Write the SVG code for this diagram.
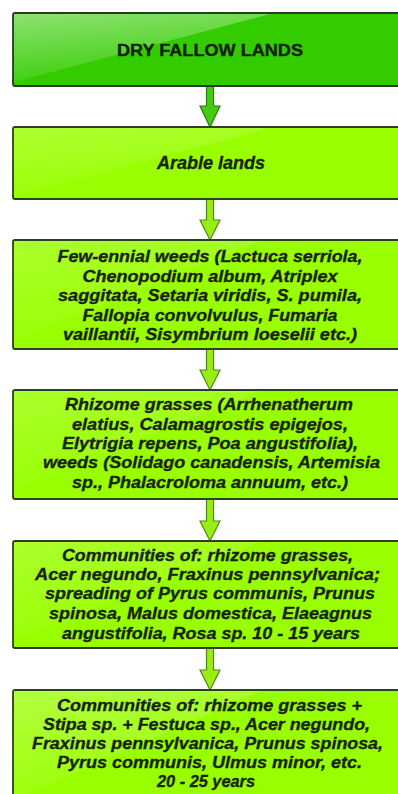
<svg xmlns="http://www.w3.org/2000/svg" width="398" height="794" viewBox="0 0 398 794">
<defs>
<linearGradient id="gloss" x1="0" y1="0" x2="0.35" y2="1">
<stop offset="0" stop-color="#ffffff" stop-opacity="0.55"/>
<stop offset="1" stop-color="#ffffff" stop-opacity="0.05"/>
</linearGradient>
<style>
.box1{fill:#33cc00;stroke:#2b3a26;stroke-width:1.8}
.box{fill:#99ff00;stroke:#2f3d25;stroke-width:1.8}
.gl{fill:url(#gloss)}
.t{font-family:"Liberation Sans",Arial,sans-serif;font-weight:bold;font-style:italic;font-size:16.8px;fill:#18240a;stroke:#18240a;stroke-width:0.35;text-anchor:middle}
.h{font-family:"Liberation Sans",Arial,sans-serif;font-weight:bold;font-size:16.8px;fill:#121c08;stroke:#121c08;stroke-width:0.35;text-anchor:middle}
.a1{fill:#44cc11;stroke:#2f7a12;stroke-width:1.2}
.a{fill:#99ee11;stroke:#4f8a14;stroke-width:1.2}
</style>
</defs>
<g id="connectors">
<path class="a1" d="M206.5,86 L213.5,86 L213.5,106 L220,106 L210,127 L200,106 L206.5,106 Z"/>
<path class="a" d="M206.5,199 L213.5,199 L213.5,220 L220,220 L210,240 L200,220 L206.5,220 Z"/>
<path class="a" d="M206.5,349 L213.5,349 L213.5,370 L220,370 L210,390 L200,370 L206.5,370 Z"/>
<path class="a" d="M206.5,499 L213.5,499 L213.5,521 L220,521 L210,541 L200,521 L206.5,521 Z"/>
<path class="a" d="M206.5,648 L213.5,648 L213.5,670 L220,670 L210,690 L200,670 L206.5,670 Z"/>
</g>
<g id="n1">
<rect class="box1" x="13" y="13" width="400" height="73" rx="2"/>
<path class="gl" d="M14,14 L270,14 L14,82 Z" opacity="0.8"/>
<text class="h" x="210" y="56" textLength="186" lengthAdjust="spacingAndGlyphs">DRY FALLOW LANDS</text>
</g>
<g id="n2">
<rect class="box" x="13" y="127" width="400" height="72" rx="2"/>
<path class="gl" d="M14,128 L270,128 L14,196 Z" opacity="0.35"/>
<text class="t" x="211" y="169" style="font-size:18px">Arable lands</text>
</g>
<g id="n3">
<rect class="box" x="13" y="240" width="400" height="109" rx="2"/>
<path class="gl" d="M14,241 L260,241 L14,340 Z" opacity="0.3"/>
<text class="t" x="210" y="262" textLength="305" lengthAdjust="spacingAndGlyphs">Few-ennial weeds (Lactuca serriola,</text>
<text class="t" x="210" y="282" textLength="255" lengthAdjust="spacingAndGlyphs">Chenopodium album, Atriplex</text>
<text class="t" x="210" y="301" textLength="304" lengthAdjust="spacingAndGlyphs">saggitata, Setaria viridis, S. pumila,</text>
<text class="t" x="210" y="321" textLength="255" lengthAdjust="spacingAndGlyphs">Fallopia convolvulus, Fumaria</text>
<text class="t" x="210" y="340" textLength="294" lengthAdjust="spacingAndGlyphs">vaillantii, Sisymbrium loeselii etc.)</text>
</g>
<g id="n4">
<rect class="box" x="13" y="390" width="400" height="109" rx="2"/>
<path class="gl" d="M14,391 L260,391 L14,490 Z" opacity="0.3"/>
<text class="t" x="209" y="410" textLength="288" lengthAdjust="spacingAndGlyphs">Rhizome grasses (Arrhenatherum</text>
<text class="t" x="210" y="429.5" textLength="276" lengthAdjust="spacingAndGlyphs">elatius, Calamagrostis epigejos,</text>
<text class="t" x="210" y="448.5" textLength="296" lengthAdjust="spacingAndGlyphs">Elytrigia repens, Poa angustifolia),</text>
<text class="t" x="211.5" y="468" textLength="337" lengthAdjust="spacingAndGlyphs">weeds (Solidago canadensis, Artemisia</text>
<text class="t" x="210" y="487.5" textLength="276" lengthAdjust="spacingAndGlyphs">sp., Phalacroloma annuum, etc.)</text>
</g>
<g id="n5">
<rect class="box" x="13" y="541" width="400" height="107" rx="2"/>
<path class="gl" d="M14,542 L260,542 L14,640 Z" opacity="0.3"/>
<text class="t" x="207.5" y="561" textLength="291" lengthAdjust="spacingAndGlyphs">Communities of: rhizome grasses,</text>
<text class="t" x="207.5" y="579.5" textLength="345" lengthAdjust="spacingAndGlyphs">Acer negundo, Fraxinus pennsylvanica;</text>
<text class="t" x="210" y="599" textLength="330" lengthAdjust="spacingAndGlyphs">spreading of Pyrus communis, Prunus</text>
<text class="t" x="210.5" y="619" textLength="323" lengthAdjust="spacingAndGlyphs">spinosa, Malus domestica, Elaeagnus</text>
<text class="t" x="211" y="638.5" textLength="298" lengthAdjust="spacingAndGlyphs">angustifolia, Rosa sp. 10 - 15 years</text>
</g>
<g id="n6">
<rect class="box" x="13" y="690" width="400" height="115" rx="2"/>
<path class="gl" d="M14,691 L260,691 L14,800 Z" opacity="0.45"/>
<text class="t" x="209.5" y="711" textLength="305" lengthAdjust="spacingAndGlyphs">Communities of: rhizome grasses +</text>
<text class="t" x="206.5" y="729.5" textLength="327" lengthAdjust="spacingAndGlyphs">Stipa sp. + Festuca sp., Acer negundo,</text>
<text class="t" x="207.5" y="748.5" textLength="351" lengthAdjust="spacingAndGlyphs">Fraxinus pennsylvanica, Prunus spinosa,</text>
<text class="t" x="209.5" y="768" textLength="305" lengthAdjust="spacingAndGlyphs">Pyrus communis, Ulmus minor, etc.</text>
<text class="t" x="206" y="787" textLength="98" lengthAdjust="spacingAndGlyphs">20 - 25 years</text>
</g>
</svg>
